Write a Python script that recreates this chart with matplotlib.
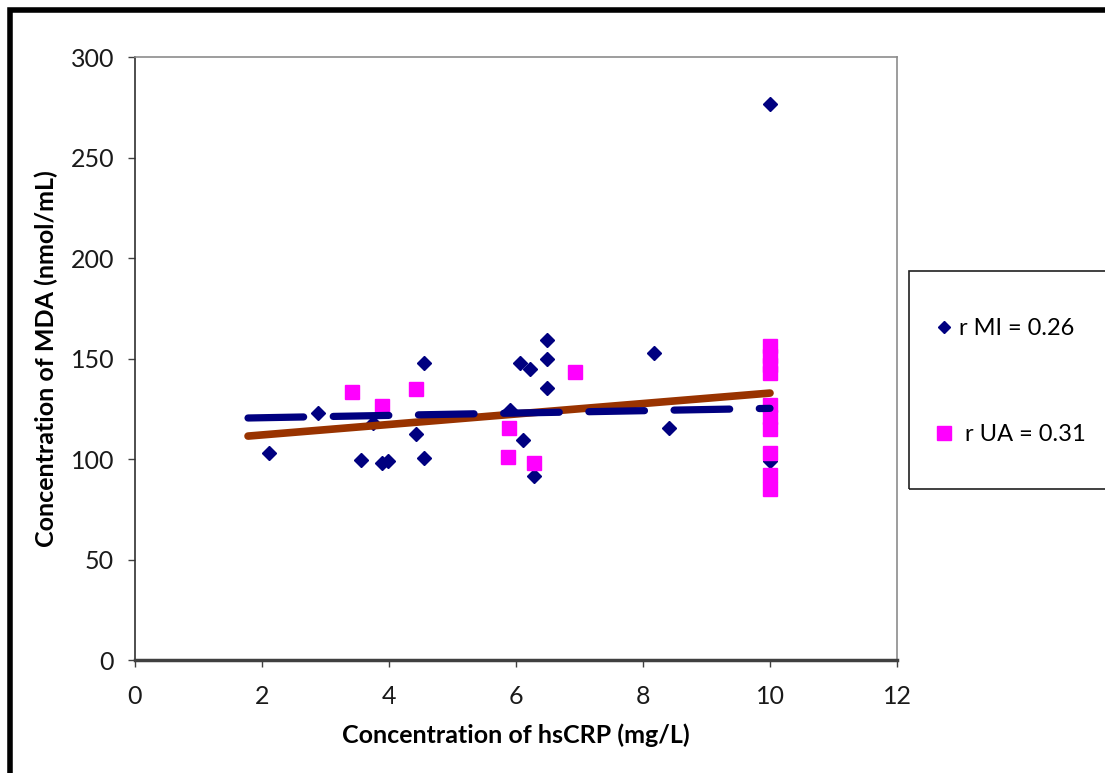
import matplotlib
matplotlib.use("Agg")
from matplotlib import pyplot as plt
from matplotlib.patches import Rectangle
from matplotlib.lines import Line2D

# Data
mi_x = [2.11, 2.88, 3.56, 3.75, 3.89, 3.98, 4.43, 4.55, 4.55, 5.9, 6.06, 6.22,
        6.11, 6.28, 6.49, 6.49, 6.49, 8.17, 8.41, 10, 10, 10, 10, 10]
mi_y = [103, 123, 99.5, 118, 98, 99, 112.5, 148, 100.5, 124.5, 148, 145,
        109.5, 91.5, 159, 150, 135.5, 152.7, 115.5, 276.5, 124, 120, 115, 99]

ua_x = [3.42, 3.89, 4.43, 5.89, 5.87, 6.28, 6.93, 10, 10, 10, 10, 10, 10, 10, 10, 10, 10]
ua_y = [133.3, 126.4, 134.8, 115.5, 101, 98, 143.3, 156, 151, 147, 143, 127, 121, 115, 103, 92, 85]

trend_x = [1.78, 10]
mi_trend = [120.4, 125.2]
ua_trend = [111.4, 132.8]

x_ticks = [0, 2, 4, 6, 8, 10, 12]
y_ticks = [0, 50, 100, 150, 200, 250, 300]

plt.rcParams['font.family'] = ['Lato', 'DejaVu Sans']

fig = plt.figure(figsize=(11.05, 7.73), dpi=100)
ax = fig.add_axes([135 / 1105, 1 - 660 / 773, (897 - 135) / 1105, (660 - 57) / 773])

navy = '#000080'
ax.plot(mi_x, mi_y, linestyle='none', marker='D', ms=7, color=navy, zorder=3)
ax.plot(ua_x, ua_y, linestyle='none', marker='s', ms=10.5, color='#FF00FF', zorder=4)
ax.plot(trend_x, ua_trend, color='#993300', lw=5.5, solid_capstyle='round', zorder=5)
ax.plot(trend_x, mi_trend, color=navy, lw=5.2, dashes=(7.7, 4.1),
        dash_capstyle='round', zorder=6)

ax.set_xlim(0, 12)
ax.set_ylim(0, 300)
ax.set_xticks(x_ticks)
ax.set_yticks(y_ticks)
ax.tick_params(axis='both', direction='out', length=5, width=1, color='#404040',
               labelsize=18, labelcolor='#1a1a1a')
ax.tick_params(axis='y', pad=10)
ax.tick_params(axis='x', pad=13)

ax.spines['left'].set_color('#303030')
ax.spines['left'].set_linewidth(1.2)
ax.spines['bottom'].set_color('#404040')
ax.spines['bottom'].set_linewidth(2.5)
for s in ['top', 'right']:
    ax.spines[s].set_color('#8c8c8c')
    ax.spines[s].set_linewidth(1.2)

ax.set_xlabel('Concentration of hsCRP (mg/L)', fontsize=18, fontweight='bold', labelpad=11)
ax.set_ylabel('Concentration of MDA (nmol/mL)', fontsize=18, fontweight='bold', labelpad=9)

# outer chart border
fig.patches.append(Rectangle((9.5 / 1105, -0.1), 1.2, 1 - 10.5 / 773 + 0.1,
                             transform=fig.transFigure, fill=False,
                             edgecolor='black', lw=4, zorder=10))

# legend box
fig.patches.append(Rectangle((909 / 1105, 1 - 489 / 773), 0.2, (489 - 271) / 773,
                             transform=fig.transFigure, fill=False,
                             edgecolor='#202020', lw=1.2))
handles = [Line2D([], [], linestyle='none', marker='D', ms=6.5, color=navy),
           Line2D([], [], linestyle='none', marker='s', ms=10, color='#FF00FF')]
fig.legend(handles, ['r MI = 0.26', ' r UA = 0.31'], loc='center left',
           bbox_to_anchor=(913 / 1105, 1 - 382 / 773), frameon=False,
           fontsize=17, labelspacing=3.6, handlelength=0.8, handletextpad=0.25)

fig.savefig('out.png', dpi=100)
